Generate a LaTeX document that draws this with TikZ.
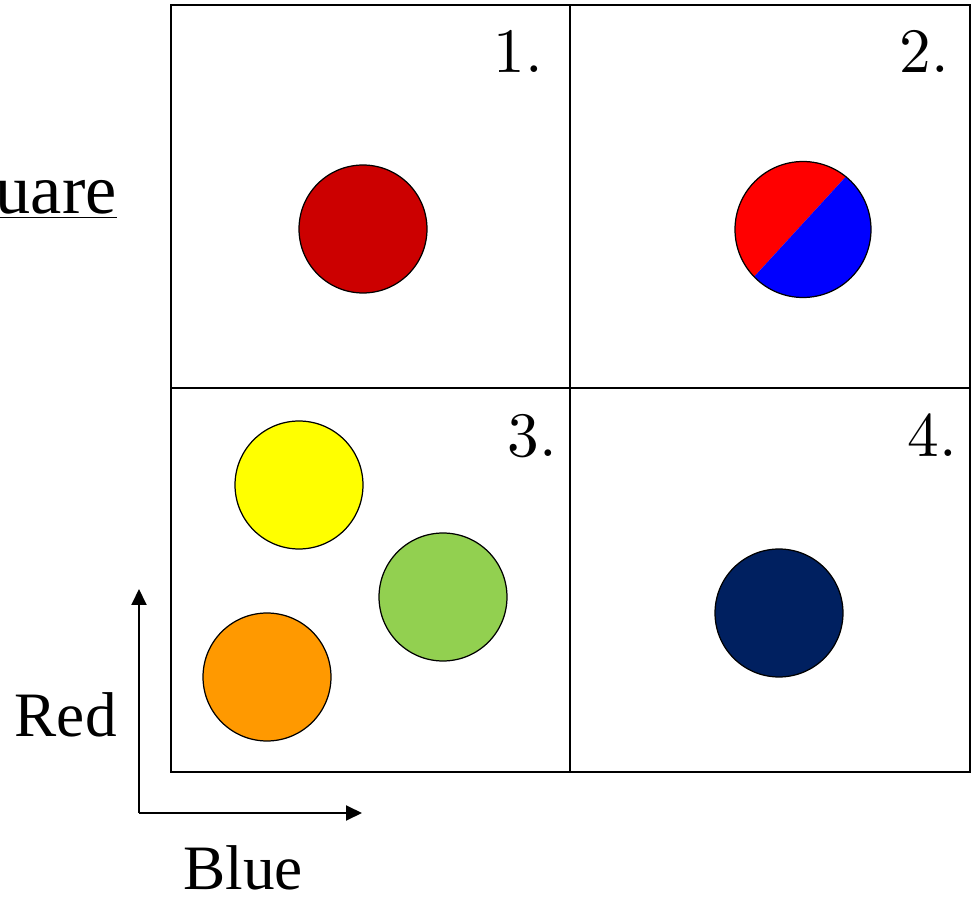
\documentclass[tikz,border=0pt]{standalone}
\usepackage{fontspec}
\newfontfamily\timesfont{Liberation Serif}
\newfontfamily\lmten{lmroman10-regular.otf}
\usetikzlibrary{positioning, arrows.meta}

\definecolor{darkred}{HTML}{CC0000}
\definecolor{lemon}{HTML}{FFFF00}
\definecolor{leaf}{HTML}{92D050}
\definecolor{tangerine}{HTML}{FF9900}
\definecolor{navy}{HTML}{002060}

\begin{document}
\begin{tikzpicture}
	[x=0.02cm, y=-0.02cm,
	 dot/.style={circle, draw, line width=0.7pt, minimum size=2.56cm, inner sep=0pt},
	 num/.style={inner sep=0pt, anchor=base east, font=\lmten\fontsize{36}{40}\selectfont},
	 word/.style={inner sep=0pt, text depth=0pt, font=\timesfont\fontsize{36}{40}\selectfont},
	 axis/.style={line width=1.1pt, -{Triangle[length=0.32cm, width=0.3cm]}}]
   \useasboundingbox (0,0) rectangle (971,898);
   % the four boxes
   \draw[line width=1.1pt] (171,5) rectangle (970,772);
   \draw[line width=1.1pt] (570,5) -- (570,772);
   \draw[line width=1.1pt] (171,388) -- (970,388);
   \node[num] (n_1) at (543,73) {1.};
   \node[num] (n_2) at (949,73) {2.};
   \node[num] (n_3) at (557,457) {3.};
   \node[num] (n_4) at (957,457) {4.};
   % circles
   \node[dot, fill=darkred] (c_1) at (363,229) {};
   \fill[red] (803,229.5) ++(136:68) arc[start angle=136, end angle=309, radius=68] -- cycle;
   \fill[blue] (803,229.5) ++(309:68) arc[start angle=309, end angle=496, radius=68] -- cycle;
   \node[dot, minimum size=2.72cm] (c_2) at (803,229.5) {};
   \node[dot, fill=lemon] (c_3a) at (299,485) {};
   \node[dot, fill=leaf] (c_3b) at (443,597) {};
   \node[dot, fill=tangerine] (c_3c) at (267,677) {};
   \node[dot, fill=navy] (c_4) at (779,613) {};
   % axes
   \coordinate (o) at (139,813);
   \coordinate (up) at (139,589);
   \coordinate (rt) at (362,813);
   \draw[axis] (o) -- (up);
   \draw[axis] (o) -- (rt);
   \node[word, anchor=base east] (red) at (117,736) {Red};
   \node[word, anchor=base west] (blu) at (183,889) {Blue};
   \node[word, anchor=base east, font=\timesfont\fontsize{40}{44}\selectfont] (sq) at (117,214) {\underline{uare}};
\end{tikzpicture}
\end{document}
